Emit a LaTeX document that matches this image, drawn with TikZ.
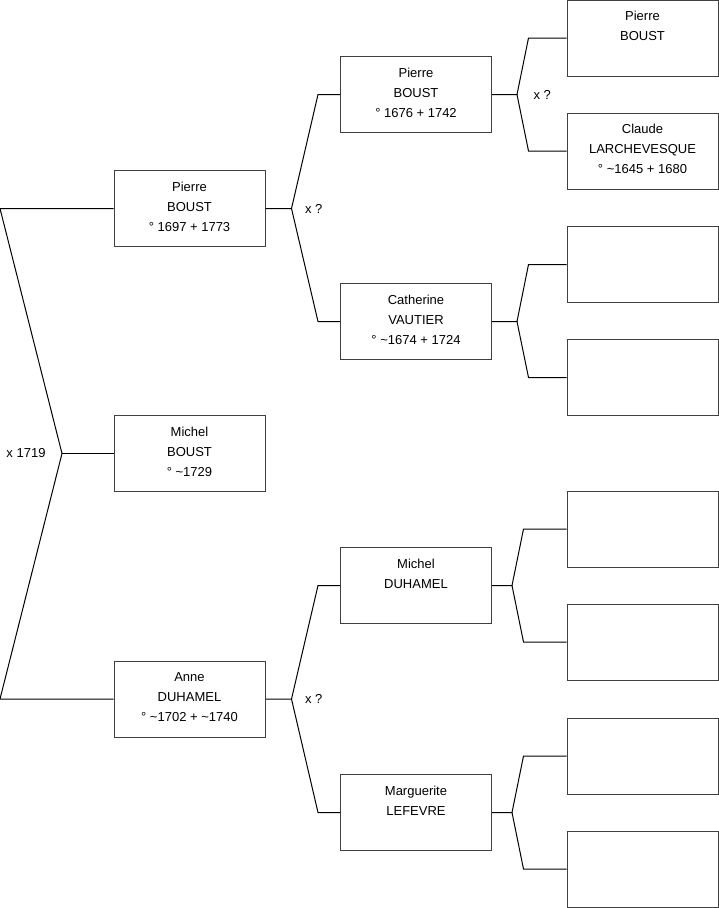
\documentclass[tikz,border=0pt]{standalone}
\usepackage{fontspec}
\setmainfont{Liberation Sans}
\usetikzlibrary{positioning}

% three lines of a person box, last one pushed down a little
\newcommand{\who}[3]{\strut#1\\#2\\#3\rule[-8.7pt]{0pt}{0pt}}
\newcommand{\abt}{\textasciitilde}

\begin{document}
\begin{tikzpicture}[x=1pt, y=-1pt, line width=1pt,
  pbox/.style={draw=black!75, minimum width=151pt, minimum height=76pt, inner sep=0pt,
               align=center, font=\fontsize{13}{20}\selectfont},
  link/.style={draw=black},
  union/.style={inner sep=0pt, font=\fontsize{13}{15}\selectfont}]
  \useasboundingbox (0,0) rectangle (719,908);

  % generation 1
  \node[pbox] (p1) at (189.5,208.5) {\who{Pierre}{BOUST}{° 1697 + 1773}};
  \node[pbox] (m1) at (189.5,453.5) {\who{Michel}{BOUST}{° \abt1729}};
  \node[pbox] (a1) at (189.5,699)   {\who{Anne}{DUHAMEL}{° \abt1702 + \abt1740}};

  % generation 2
  \node[pbox] (pp) at (416,94.5)  {\who{Pierre}{BOUST}{° 1676 + 1742}};
  \node[pbox] (pm) at (416,321.5) {\who{Catherine}{VAUTIER}{° \abt1674 + 1724}};
  \node[pbox] (ap) at (416,585.5) {\who{Michel}{DUHAMEL}{}};
  \node[pbox] (am) at (416,812.5) {\who{Marguerite}{LEFEVRE}{}};

  % generation 3
  \node[pbox] (ppp) at (642.5,38)    {\who{Pierre}{BOUST}{}};
  \node[pbox] (ppm) at (642.5,151)   {\who{Claude}{LARCHEVESQUE}{° \abt1645 + 1680}};
  \node[pbox] (pmp) at (642.5,264.5) {};
  \node[pbox] (pmm) at (642.5,377.5) {};
  \node[pbox] (app) at (642.5,529)   {};
  \node[pbox] (apm) at (642.5,642)   {};
  \node[pbox] (amp) at (642.5,756)   {};
  \node[pbox] (amm) at (642.5,869)   {};

  % siblings
  \coordinate (top) at (0,208.5);
  \coordinate (j0) at (62,453.5);
  \coordinate (bot) at (0,699);
  \draw[link] (p1.west) -- (top) -- (j0) -- (bot) -- (a1.west);
  \draw[link] (j0) -- (m1.west);
  \node[union, left=16pt of j0] (u0) {x 1719};

  % parents
  \foreach \c/\f/\m/\jx/\bx in {p1/pp/pm/26/22, a1/ap/am/26/22, pp/ppp/ppm/25/38,
                                pm/pmp/pmm/25/38, ap/app/apm/20/43, am/amp/amm/20/43}{
    \coordinate (j\c) at ([xshift=\jx]\c.east);
    \draw[link] (\c.east) -- (j\c) -- ([xshift=-\bx]\f.west) -- (\f.west);
    \draw[link] (j\c) -- ([xshift=-\bx]\m.west) -- (\m.west);
  }
  \node[union, right=13pt of jp1] (up1) {x ?};
  \node[union, right=13pt of ja1] (ua1) {x ?};
  \node[union, right=16pt of jpp] (upp) {x ?};
\end{tikzpicture}
\end{document}
